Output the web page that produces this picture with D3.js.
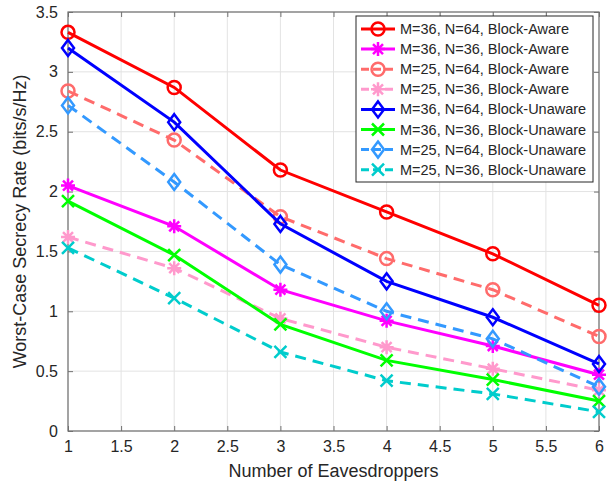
<!DOCTYPE html>
<html>
<head>
<meta charset="utf-8">
<script src="https://cdn.jsdelivr.net/npm/d3@7"></script>
<style>
body { margin: 0; background: #fff; }
text { font-family: "Liberation Sans", Arial, sans-serif; fill: #262626; }
</style>
</head>
<body>
<div id="chart"></div>
<script>
var svgWidth = 610;
var svgHeight = 485;

var plotLeft = 68, plotRight = 599, plotTop = 12, plotBottom = 431;

// data
var eavesdroppers = [1, 2, 3, 4, 5, 6];
var xTicks = [1, 1.5, 2, 2.5, 3, 3.5, 4, 4.5, 5, 5.5, 6];
var yTicks = [0, 0.5, 1, 1.5, 2, 2.5, 3, 3.5];

var labels = [
  "M=36, N=64, Block-Aware",
  "M=36, N=36, Block-Aware",
  "M=25, N=64, Block-Aware",
  "M=25, N=36, Block-Aware",
  "M=36, N=64, Block-Unaware",
  "M=36, N=36, Block-Unaware",
  "M=25, N=64, Block-Unaware",
  "M=25, N=36, Block-Unaware"
];
var m36n64Aware = [3.33, 2.87, 2.18, 1.83, 1.48, 1.05];
var m36n36Aware = [2.05, 1.71, 1.18, 0.92, 0.71, 0.47];
var m25n64Aware = [2.84, 2.43, 1.79, 1.44, 1.18, 0.79];
var m25n36Aware = [1.62, 1.36, 0.94, 0.70, 0.52, 0.34];
var m36n64Unaware = [3.20, 2.58, 1.73, 1.25, 0.95, 0.56];
var m36n36Unaware = [1.92, 1.47, 0.89, 0.59, 0.43, 0.25];
var m25n64Unaware = [2.72, 2.08, 1.39, 1.00, 0.77, 0.37];
var m25n36Unaware = [1.53, 1.11, 0.66, 0.42, 0.31, 0.16];

var seriesValues = [m36n64Aware, m36n36Aware, m25n64Aware, m25n36Aware,
                    m36n64Unaware, m36n36Unaware, m25n64Unaware, m25n36Unaware];
var colors = ["#ff0000", "#ff00ff", "#ff6b6b", "#ff99cc", "#0000ff", "#00ff00", "#3399ff", "#00cccc"];
var markers = ["circle", "asterisk", "circle", "asterisk", "diamond", "cross", "diamond", "cross"];
var dashed = [false, false, true, true, false, false, true, true];

var svg = d3.select("#chart").append("svg")
  .attr("width", svgWidth)
  .attr("height", svgHeight);

var xScale = d3.scaleLinear().domain([1, 6]).range([plotLeft, plotRight]);
var yScale = d3.scaleLinear().domain([0, 3.5]).range([plotBottom, plotTop]);

// grid
svg.append("g").selectAll("line").data(xTicks).enter().append("line")
  .attr("x1", function(d) { return xScale(d); })
  .attr("x2", function(d) { return xScale(d); })
  .attr("y1", plotTop).attr("y2", plotBottom)
  .attr("stroke", "#e3e3e3").attr("stroke-width", 1);
svg.append("g").selectAll("line").data(yTicks).enter().append("line")
  .attr("y1", function(d) { return yScale(d); })
  .attr("y2", function(d) { return yScale(d); })
  .attr("x1", plotLeft).attr("x2", plotRight)
  .attr("stroke", "#e3e3e3").attr("stroke-width", 1);

// axes
var axisColor = "#707070";
var xAxis = d3.axisBottom(xScale).tickValues(xTicks).tickSize(-5).tickPadding(10)
  .tickFormat(d3.format("~g"));
var yAxis = d3.axisLeft(yScale).tickValues(yTicks).tickSize(-5).tickPadding(10)
  .tickFormat(d3.format("~g"));
var xTop = d3.axisTop(xScale).tickValues(xTicks).tickSize(-5).tickFormat("");
var yRight = d3.axisRight(yScale).tickValues(yTicks).tickSize(-5).tickFormat("");

function styleAxis(g) {
  g.select(".domain").remove();
  g.selectAll(".tick line").attr("stroke", axisColor);
  g.selectAll(".tick text").style("font-size", "16px").attr("fill", "#262626");
}

svg.append("g").attr("transform", "translate(0," + plotBottom + ")").call(xAxis).call(styleAxis);
svg.append("g").attr("transform", "translate(" + plotLeft + ",0)").call(yAxis).call(styleAxis);
svg.append("g").attr("transform", "translate(0," + plotTop + ")").call(xTop).call(styleAxis);
svg.append("g").attr("transform", "translate(" + plotRight + ",0)").call(yRight).call(styleAxis);
svg.append("rect")
  .attr("x", plotLeft).attr("y", plotTop)
  .attr("width", plotRight - plotLeft).attr("height", plotBottom - plotTop)
  .attr("fill", "none").attr("stroke", axisColor).attr("stroke-width", 1.2);

// axis labels
svg.append("text")
  .attr("x", (plotLeft + plotRight) / 2).attr("y", 477)
  .attr("text-anchor", "middle").style("font-size", "18px")
  .text("Number of Eavesdroppers");
svg.append("text")
  .attr("transform", "translate(26," + ((plotTop + plotBottom) / 2) + ")rotate(-90)")
  .attr("text-anchor", "middle").style("font-size", "18px")
  .text("Worst-Case Secrecy Rate (bits/s/Hz)");

function drawMarker(g, type, x, y, color) {
  var r = 6.5;
  if (type === "circle") {
    g.append("circle").attr("cx", x).attr("cy", y).attr("r", r)
      .attr("fill", "none").attr("stroke", color).attr("stroke-width", 2.5);
  } else if (type === "diamond") {
    var d = 8;
    g.append("path")
      .attr("d", "M" + x + "," + (y - d) + "L" + (x + d * 0.75) + "," + y + "L" + x + "," + (y + d) + "L" + (x - d * 0.75) + "," + y + "Z")
      .attr("fill", "none").attr("stroke", color).attr("stroke-width", 2.5);
  } else if (type === "cross") {
    var c = 6;
    g.append("path")
      .attr("d", "M" + (x - c) + "," + (y - c) + "L" + (x + c) + "," + (y + c) + "M" + (x - c) + "," + (y + c) + "L" + (x + c) + "," + (y - c))
      .attr("stroke", color).attr("stroke-width", 2.5);
  } else {
    var a = 7, b = 5;
    g.append("path")
      .attr("d", "M" + x + "," + (y - a) + "L" + x + "," + (y + a) +
        "M" + (x - a) + "," + y + "L" + (x + a) + "," + y +
        "M" + (x - b) + "," + (y - b) + "L" + (x + b) + "," + (y + b) +
        "M" + (x - b) + "," + (y + b) + "L" + (x + b) + "," + (y - b))
      .attr("stroke", color).attr("stroke-width", 2.5);
  }
}

var line = d3.line()
  .x(function(d, i) { return xScale(eavesdroppers[i]); })
  .y(function(d) { return yScale(d); });

seriesValues.forEach(function(vals, k) {
  var g = svg.append("g");
  g.append("path")
    .attr("d", line(vals))
    .attr("fill", "none")
    .attr("stroke", colors[k])
    .attr("stroke-width", 3)
    .attr("stroke-dasharray", dashed[k] ? "11,7" : null);
  vals.forEach(function(v, i) {
    drawMarker(g, markers[k], xScale(eavesdroppers[i]), yScale(v), colors[k]);
  });
});

// legend
var legX = 356, legY = 16, legW = 237, legH = 166;
var legend = svg.append("g");
legend.append("rect")
  .attr("x", legX).attr("y", legY).attr("width", legW).attr("height", legH)
  .attr("fill", "#fff").attr("stroke", "#262626").attr("stroke-width", 1);
labels.forEach(function(lab, k) {
  var yy = legY + 13 + k * 20.1;
  legend.append("line")
    .attr("x1", legX + 5).attr("x2", legX + 39)
    .attr("y1", yy).attr("y2", yy)
    .attr("stroke", colors[k]).attr("stroke-width", 3)
    .attr("stroke-dasharray", dashed[k] ? "8,4" : null);
  drawMarker(legend, markers[k], legX + 22, yy, colors[k]);
  legend.append("text")
    .attr("x", legX + 44).attr("y", yy + 5)
    .style("font-size", "14.5px")
    .text(lab);
});
</script>
</body>
</html>
